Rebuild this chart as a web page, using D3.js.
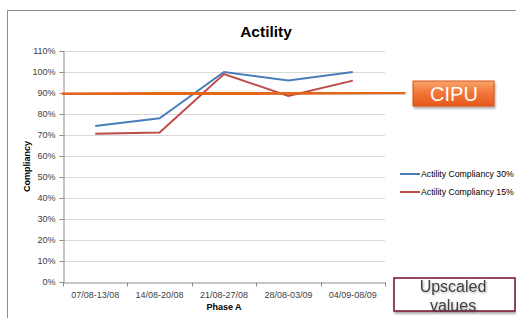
<!DOCTYPE html>
<html>
<head>
<meta charset="utf-8">
<script src="https://cdn.jsdelivr.net/npm/d3@7"></script>
<style>
  body { margin: 0; background: #fff; }
  svg { display: block; font-family: "Liberation Sans", Arial, sans-serif; }
</style>
</head>
<body>
<div id="chart"></div>
<script>
const weeks = ["07/08-13/08", "14/08-20/08", "21/08-27/08", "28/08-03/09", "04/09-08/09"];
const compliancy30 = [74.3, 78, 100, 96, 100];
const compliancy15 = [70.6, 71.2, 99, 88.6, 95.9];
const seriesNames = ["Actility Compliancy 30%", "Actility Compliancy 15%"];
const yTicks = [0, 10, 20, 30, 40, 50, 60, 70, 80, 90, 100, 110];
const cipuLevel = [89.4, 90.3]; // start / end of the hand drawn CIPU bar

const width = 516, height = 318;
const margin = {top: 51, right: 131, bottom: 36, left: 63};

const svg = d3.select("#chart").append("svg")
    .attr("width", width)
    .attr("height", height);

const defs = svg.append("defs");
const grad = defs.append("linearGradient").attr("id", "cipuGrad")
    .attr("x1", 0).attr("y1", 0).attr("x2", 0).attr("y2", 1);
grad.append("stop").attr("offset", "0%").attr("stop-color", "#f9a66c");
grad.append("stop").attr("offset", "45%").attr("stop-color", "#f2773a");
grad.append("stop").attr("offset", "100%").attr("stop-color", "#e8591c");
const shadow = defs.append("filter").attr("id", "shadow")
    .attr("x", "-20%").attr("y", "-20%").attr("width", "140%").attr("height", "160%");
shadow.append("feDropShadow").attr("dx", 1).attr("dy", 2).attr("stdDeviation", 1.2)
    .attr("flood-color", "#000").attr("flood-opacity", 0.35);
const textShadow = defs.append("filter").attr("id", "tshadow");
textShadow.append("feDropShadow").attr("dx", 1).attr("dy", 1).attr("stdDeviation", 0.8)
    .attr("flood-color", "#000").attr("flood-opacity", 0.3);

// chart frame (only top and left edges fall inside the picture)
svg.append("path")
    .attr("d", "M7.5,318 V10.5 H516")
    .attr("fill", "none")
    .attr("stroke", "#8c8c8c")
    .attr("stroke-width", 1);

const x = d3.scaleBand()
    .domain(weeks)
    .range([margin.left, width - margin.right]);

const y = d3.scaleLinear()
    .domain([0, 110])
    .range([height - margin.bottom, margin.top]);

// Gridlines
svg.append("g")
    .selectAll("line")
    .data(yTicks.filter(d => d > 0))
    .join("line")
    .attr("x1", margin.left)
    .attr("x2", width - margin.right)
    .attr("y1", d => Math.round(y(d)) + 0.5)
    .attr("y2", d => Math.round(y(d)) + 0.5)
    .attr("stroke", "#d9d9d9");

// Axis Y
const yAxis = svg.append("g")
    .attr("transform", `translate(${margin.left + 0.5},0)`)
    .call(d3.axisLeft(y).tickValues(yTicks).tickFormat(d => d + "%").tickSize(4).tickPadding(4));
yAxis.select(".domain").attr("stroke", "#8c8c8c");
yAxis.selectAll(".tick line").attr("stroke", "#8c8c8c");
yAxis.selectAll("text").style("font-size", "9px").attr("fill", "#404040");
yAxis.selectAll(".tick").attr("transform", d => `translate(0,${Math.round(y(d)) + 0.5})`);

// Axis X
const xAxis = svg.append("g")
    .attr("transform", `translate(0,${Math.round(y(0)) + 0.5})`)
    .call(d3.axisBottom(x).tickSize(0).tickPadding(9));
xAxis.select(".domain").attr("stroke", "#8c8c8c");
xAxis.selectAll("text").style("font-size", "9px").attr("fill", "#404040");
xAxis.append("g")
    .selectAll("line")
    .data(weeks.concat(["end"]))
    .join("line")
    .attr("x1", (d, i) => Math.round(margin.left + i * x.step()) + 0.5)
    .attr("x2", (d, i) => Math.round(margin.left + i * x.step()) + 0.5)
    .attr("y1", 0)
    .attr("y2", 4)
    .attr("stroke", "#8c8c8c");

// Lines
const line = d3.line()
    .x((d, i) => x(weeks[i]) + x.bandwidth() / 2)
    .y(d => y(d));

svg.append("path")
    .datum(compliancy30)
    .attr("d", line)
    .attr("fill", "none")
    .attr("stroke", "#4a7ebb")
    .attr("stroke-width", 2);

svg.append("path")
    .datum(compliancy15)
    .attr("d", line)
    .attr("fill", "none")
    .attr("stroke", "#be4b48")
    .attr("stroke-width", 2);

// CIPU bar
svg.append("line")
    .attr("x1", margin.left - 1)
    .attr("x2", 405)
    .attr("y1", y(cipuLevel[0]))
    .attr("y2", y(cipuLevel[1]))
    .attr("stroke", "#e4661e")
    .attr("stroke-width", 3.5)
    .attr("filter", "url(#tshadow)");

// Titles
svg.append("text")
    .attr("x", 266)
    .attr("y", 36.5)
    .attr("text-anchor", "middle")
    .style("font-size", "15.5px")
    .style("font-weight", "bold")
    .attr("fill", "#000")
    .text("Actility");

svg.append("text")
    .attr("x", (margin.left + width - margin.right) / 2)
    .attr("y", 310)
    .attr("text-anchor", "middle")
    .style("font-size", "9px")
    .style("font-weight", "bold")
    .attr("fill", "#000")
    .text("Phase A");

svg.append("text")
    .attr("transform", "rotate(-90)")
    .attr("x", -(margin.top + height - margin.bottom) / 2)
    .attr("y", 30)
    .attr("text-anchor", "middle")
    .style("font-size", "9px")
    .style("font-weight", "bold")
    .attr("fill", "#000")
    .text("Compliancy");

// Legend
const legend = svg.append("g").attr("transform", "translate(400,174)");
const colors = ["#4a7ebb", "#be4b48"];
seriesNames.forEach((name, i) => {
    legend.append("line")
        .attr("x1", 0).attr("x2", 20)
        .attr("y1", i * 18).attr("y2", i * 18)
        .attr("stroke", colors[i])
        .attr("stroke-width", 2);
    legend.append("text")
        .attr("x", 21)
        .attr("y", i * 18 + 3)
        .style("font-size", "8.7px")
        .attr("fill", "#000")
        .text(name);
});

// CIPU callout
svg.append("rect")
    .attr("x", 413).attr("y", 81)
    .attr("width", 81).attr("height", 25)
    .attr("fill", "url(#cipuGrad)")
    .attr("stroke", "#d9541a")
    .attr("stroke-width", 1)
    .attr("filter", "url(#shadow)");
svg.append("text")
    .attr("x", 454).attr("y", 100.5)
    .attr("text-anchor", "middle")
    .style("font-size", "20px")
    .attr("fill", "#fff")
    .text("CIPU");

// Upscaled values box
svg.append("rect")
    .attr("x", 394).attr("y", 278)
    .attr("width", 121).attr("height", 33)
    .attr("fill", "#fff")
    .attr("stroke", "#7b2035")
    .attr("stroke-width", 1.6)
    .attr("filter", "url(#shadow)");
svg.append("text")
    .attr("x", 453).attr("y", 291.5)
    .attr("text-anchor", "middle")
    .style("font-size", "16px")
    .attr("fill", "#404040")
    .attr("filter", "url(#tshadow)")
    .text("Upscaled");
svg.append("text")
    .attr("x", 453).attr("y", 311)
    .attr("text-anchor", "middle")
    .style("font-size", "16px")
    .attr("fill", "#404040")
    .attr("filter", "url(#tshadow)")
    .text("values");
</script>
</body>
</html>
